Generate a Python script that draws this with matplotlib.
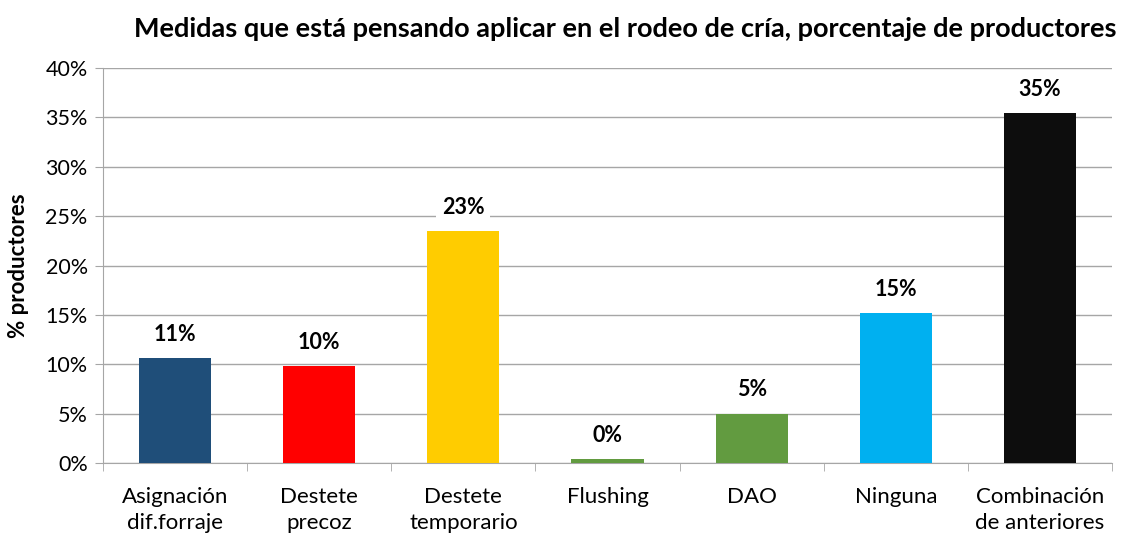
import matplotlib.pyplot as plt
from matplotlib.ticker import FuncFormatter, FixedLocator

plt.rcParams['font.family'] = ['Lato', 'DejaVu Sans']

# datos
categorias = ['Asignación\ndif.forraje', 'Destete\nprecoz', 'Destete\ntemporario',
              'Flushing', 'DAO', 'Ninguna', 'Combinación\nde anteriores']
valores = [10.6, 9.8, 23.5, 0.4, 5.0, 15.2, 35.4]
etiquetas = ['11%', '10%', '23%', '0%', '5%', '15%', '35%']
colores = ['#1F4E79', '#FF0000', '#FFCC00', '#629B40', '#629B40', '#00B0F0', '#0D0D0D']

fig = plt.figure(figsize=(11.3, 5.36), dpi=100)
ax = fig.add_axes([103/1130, 1 - 463/536, 1009/1130, 395/536])

x = range(len(categorias))
ax.bar(x, valores, width=0.5, color=colores, zorder=3)

for i, (v, t) in enumerate(zip(valores, etiquetas)):
    ax.text(i, v + 2.4, t, ha='center', va='center', fontsize=15.5, fontweight='bold',
            bbox=dict(facecolor='white', edgecolor='none', pad=4), zorder=4)

ax.set_xlim(-0.5, len(categorias) - 0.5)
ax.set_ylim(0, 40)
ax.set_yticks(range(0, 41, 5))
ax.yaxis.set_major_formatter(FuncFormatter(lambda v, p: f'{v:.0f}%'))
ax.grid(axis='y', color='#A6A6A6', linewidth=1, zorder=0)

ax.set_xticks(list(x))
ax.set_xticklabels(categorias, fontsize=16, linespacing=1.4)
ax.xaxis.set_minor_locator(FixedLocator([i - 0.5 for i in range(len(categorias) + 1)]))
ax.tick_params(axis='x', which='major', length=0, pad=17)
ax.tick_params(axis='x', which='minor', length=6, color='#A6A6A6')
ax.tick_params(axis='y', length=6, color='#A6A6A6', labelsize=15.5, pad=5)

for s in ['top', 'right']:
    ax.spines[s].set_visible(False)
for s in ['left', 'bottom']:
    ax.spines[s].set_color('#A6A6A6')

ax.set_ylabel('% productores', fontsize=16, fontweight='bold', labelpad=12)

fig.text(625/1130, 1 - 29/536, 'Medidas que está pensando aplicar en el rodeo de cría, porcentaje de productores',
         ha='center', va='center', fontsize=19.5, fontweight='bold')

fig.savefig('out.png', dpi=100)
